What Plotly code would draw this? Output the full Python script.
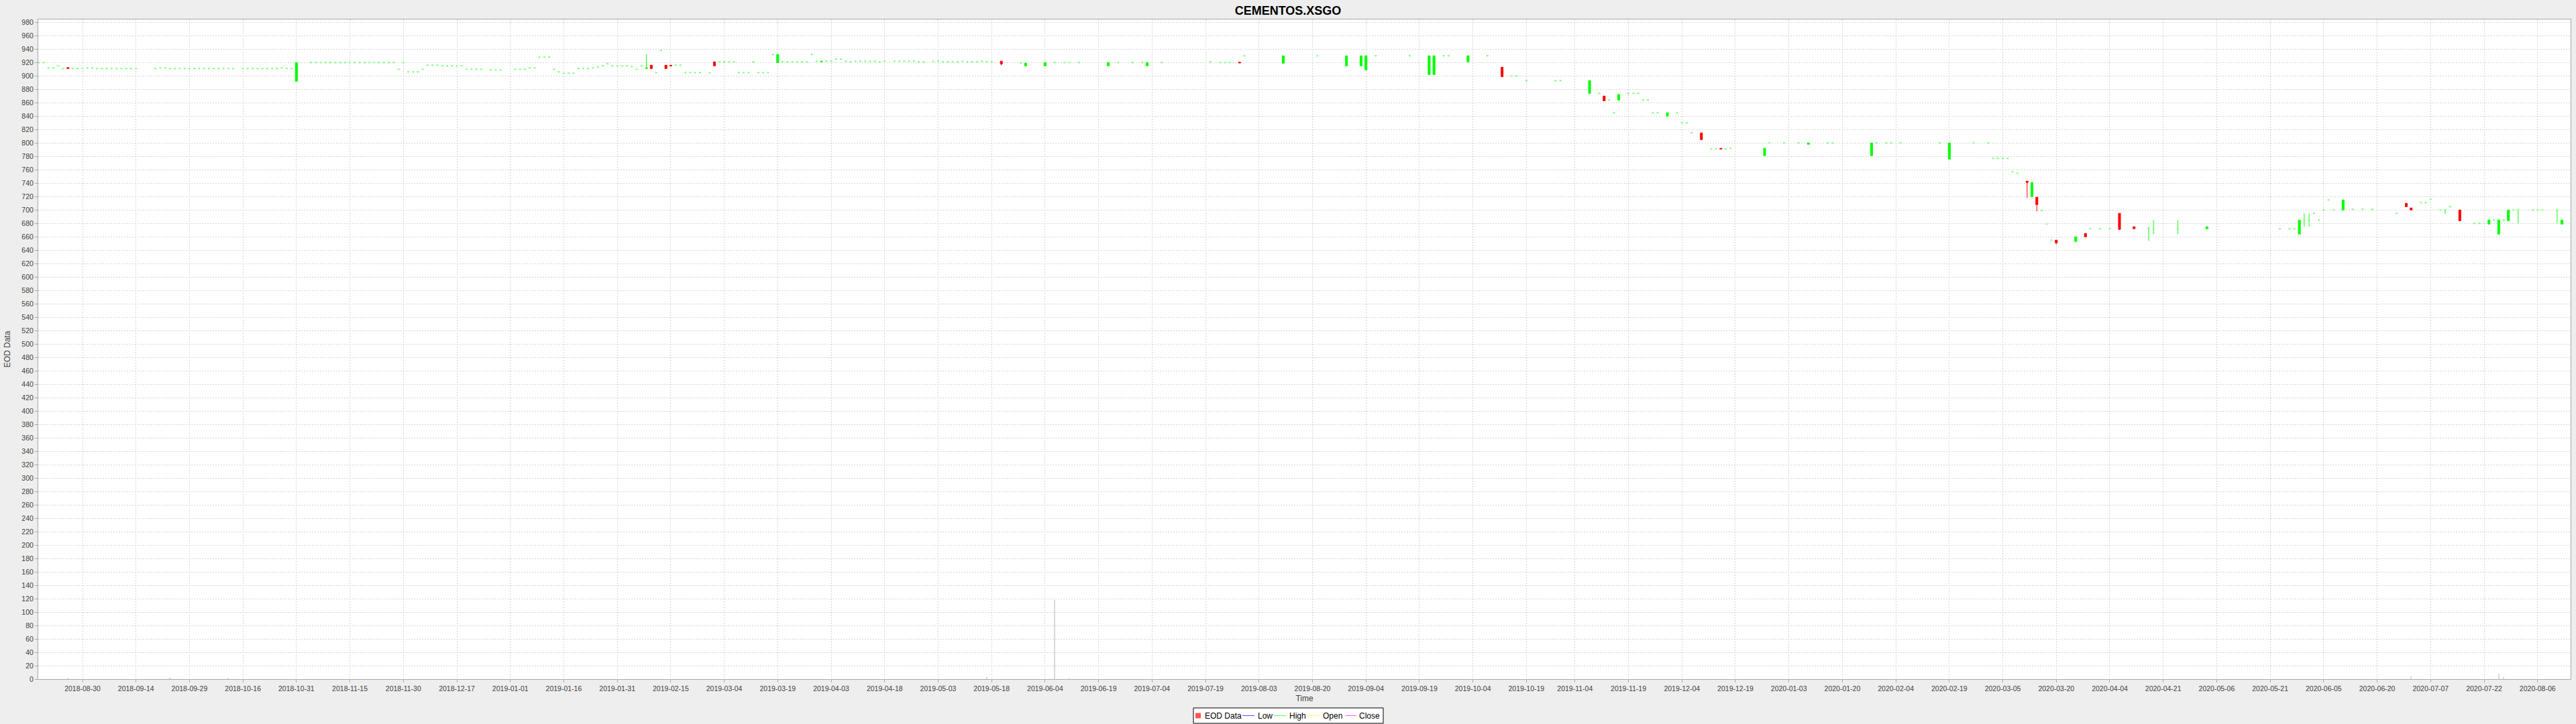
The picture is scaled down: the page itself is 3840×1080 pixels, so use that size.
import plotly.graph_objects as go
import pandas as pd

# ---------------- data ----------------
dates = [
    # 2018-08
    "2018-08-17","2018-08-20","2018-08-21","2018-08-22","2018-08-23","2018-08-24","2018-08-27","2018-08-28","2018-08-29","2018-08-30","2018-08-31",
    # 2018-09
    "2018-09-03","2018-09-04","2018-09-05","2018-09-06","2018-09-07","2018-09-10","2018-09-11","2018-09-12","2018-09-13","2018-09-14",
    "2018-09-20","2018-09-21","2018-09-24","2018-09-25","2018-09-26","2018-09-27","2018-09-28",
    # 2018-10
    "2018-10-01","2018-10-02","2018-10-03","2018-10-04","2018-10-05","2018-10-08","2018-10-09","2018-10-10","2018-10-11","2018-10-12",
    "2018-10-16","2018-10-17","2018-10-18","2018-10-19","2018-10-22","2018-10-23","2018-10-24","2018-10-25","2018-10-26","2018-10-29","2018-10-30","2018-10-31",
    # 2018-11
    "2018-11-05","2018-11-06","2018-11-07","2018-11-08","2018-11-09","2018-11-12","2018-11-13","2018-11-14","2018-11-15","2018-11-16",
    "2018-11-19","2018-11-20","2018-11-21","2018-11-22","2018-11-23","2018-11-26","2018-11-27","2018-11-28","2018-11-29","2018-11-30",
    # 2018-12
    "2018-12-03","2018-12-04","2018-12-05","2018-12-06","2018-12-07","2018-12-10","2018-12-11","2018-12-12","2018-12-13","2018-12-14",
    "2018-12-17","2018-12-18","2018-12-19","2018-12-20","2018-12-21","2018-12-24","2018-12-26","2018-12-27","2018-12-28",
    # 2019-01
    "2019-01-02","2019-01-03","2019-01-04","2019-01-07","2019-01-08","2019-01-09","2019-01-10","2019-01-11","2019-01-14","2019-01-15","2019-01-16",
    "2019-01-17","2019-01-18","2019-01-21","2019-01-22","2019-01-23","2019-01-24","2019-01-25","2019-01-28","2019-01-29","2019-01-30","2019-01-31",
    # 2019-02
    "2019-02-01","2019-02-04","2019-02-05","2019-02-06","2019-02-07","2019-02-08","2019-02-11","2019-02-12","2019-02-13","2019-02-14",
    "2019-02-15","2019-02-18","2019-02-19","2019-02-20","2019-02-21","2019-02-22","2019-02-25","2019-02-27","2019-02-28",
    # 2019-03
    "2019-03-01","2019-03-04","2019-03-05","2019-03-06","2019-03-07","2019-03-08","2019-03-11","2019-03-12","2019-03-13","2019-03-14","2019-03-15",
    "2019-03-18","2019-03-19","2019-03-20","2019-03-21","2019-03-22","2019-03-25","2019-03-26","2019-03-27","2019-03-28","2019-03-29",
    # 2019-04
    "2019-04-01","2019-04-02","2019-04-03","2019-04-04","2019-04-05","2019-04-08","2019-04-09","2019-04-10","2019-04-11","2019-04-12","2019-04-15",
    "2019-04-16","2019-04-17","2019-04-18","2019-04-22","2019-04-23","2019-04-24","2019-04-25","2019-04-26","2019-04-29","2019-04-30",
    # 2019-05
    "2019-05-02","2019-05-03","2019-05-06","2019-05-07","2019-05-08","2019-05-09","2019-05-10","2019-05-13","2019-05-14","2019-05-15",
    "2019-05-16","2019-05-17","2019-05-20","2019-05-22","2019-05-28","2019-05-29",
    # 2019-06
    "2019-06-04","2019-06-06","2019-06-10","2019-06-11","2019-06-13","2019-06-21","2019-06-25","2019-06-28",
    # 2019-07
    "2019-07-02","2019-07-03","2019-07-08","2019-07-22","2019-07-24","2019-07-25","2019-07-26","2019-07-30","2019-07-31",
    # 2019-08
    "2019-08-12","2019-08-21","2019-08-29",
    # 2019-09
    "2019-09-03","2019-09-04","2019-09-06","2019-09-17","2019-09-23","2019-09-24","2019-09-26","2019-09-27",
    # 2019-10
    "2019-10-03","2019-10-09","2019-10-14","2019-10-16","2019-10-17","2019-10-21","2019-10-29","2019-10-30",
    # 2019-11
    "2019-11-07","2019-11-11","2019-11-12","2019-11-13","2019-11-14","2019-11-15","2019-11-19","2019-11-20","2019-11-21","2019-11-22",
    "2019-11-25","2019-11-26","2019-11-27","2019-11-29",
    # 2019-12
    "2019-12-03","2019-12-04","2019-12-05","2019-12-06","2019-12-10","2019-12-12","2019-12-13","2019-12-16","2019-12-17","2019-12-18",
    "2019-12-27","2019-12-30",
    # 2020-01
    "2020-01-02","2020-01-07","2020-01-09","2020-01-15","2020-01-16","2020-01-28","2020-01-29","2020-01-31",
    # 2020-02
    "2020-02-03","2020-02-05","2020-02-17","2020-02-19","2020-02-26",
    # 2020-03
    "2020-03-02","2020-03-03","2020-03-04","2020-03-05","2020-03-06","2020-03-09","2020-03-10","2020-03-12","2020-03-13","2020-03-16",
    "2020-03-17","2020-03-18","2020-03-19","2020-03-20","2020-03-26","2020-03-30","2020-03-31",
    # 2020-04
    "2020-04-02","2020-04-06","2020-04-08","2020-04-13","2020-04-16","2020-04-17","2020-04-24",
    # 2020-05
    "2020-05-04","2020-05-25","2020-05-27","2020-05-28","2020-05-29",
    # 2020-06
    "2020-06-01","2020-06-02","2020-06-03","2020-06-04","2020-06-05","2020-06-08","2020-06-09","2020-06-11","2020-06-15","2020-06-17",
    "2020-06-19","2020-06-26","2020-06-30",
    # 2020-07
    "2020-07-01","2020-07-03","2020-07-06","2020-07-07","2020-07-09","2020-07-10","2020-07-13","2020-07-15","2020-07-20","2020-07-21",
    "2020-07-23","2020-07-24","2020-07-27","2020-07-28","2020-07-29","2020-07-30","2020-07-31",
    # 2020-08
    "2020-08-05","2020-08-06","2020-08-07","2020-08-12","2020-08-13",
]

opens = [
    920,920,912,912,915,911,912.5,911,911,911,912,
    912,911,911,911,911,911,911,911,911,911,911,912,912,911,911,911,911,
    911,911,911,911,911,911,911,911,911,911,911,911,911,911,911,911,911,911,912,911,911,892,
    920,920,920,920,920,920,920,920,920,920,920,920,920,920,920,920,920,920,910,920,
    906,906,906,910,916,916,916,915,915,915,915,915,910,910,910,910,909,909,909,
    910,910,910,912,912,928,928,928,910,906,904,904,904,911,911,911,912,913,915,918,915,915,
    915,915,914,910,915,911,916,905,938,916,916,916,916,905,905,905,905,905,921,
    921,921,921,921,905,905,905,921,905,905,905,932,920,921,921,921,921,921,921,932,922,
    921,922,922,925,925,922,921,922,922,922,922,922,921,922,922,922,922,922,922,921,921,
    922,922,921,921,921,921,922,921,921,921,922,921,921,922,919,915,
    915,920,920,920,920,915,920,920,
    920,915,920,921,920,920,920,920.5,930,
    919,930,915,
    915,909,930,930,902,902,930,930,
    921,930,913,900,900,893,893,893,
    874,874,870,864,845,864,874,874,874,864,864,845,845,840,
    845,830,830,815,815,791,791,792,791,792,781,800,
    800,800,798,800,800,781,800,800,
    800,800,800,776,800,
    800,777,777,777,777,757,755,743,720,719,699,679,655,655,653,665,672,
    672,672,695,675,672,672,672,
    672,672,672,672,664,
    685,685,695,685,700,715,700,700,701,701,701,695,710,
    703,711,711,716,700,700,705,700,680,680,679,685,664,685,684,700,700,
    700,700,700,700,679,
]

highs = [
    920,920,912,912,915,911,912.5,911,911,911,912,
    912,911,911,911,911,911,911,911,911,911,911,912,912,911,911,911,911,
    911,911,911,911,911,911,911,911,911,911,911,911,911,911,911,911,911,911,912,911,911,920,
    920,920,920,920,920,920,920,920,920,920,920,920,920,920,920,920,920,920,910,920,
    906,906,906,910,916,916,916,915,915,915,915,915,910,910,910,910,909,909,909,
    910,910,910,912,912,928,928,928,910,906,904,904,904,911,911,911,912,913,915,918,915,915,
    915,915,914,910,915,932,916,905,938,916,916,916,916,905,905,905,905,905,921,
    921,921,921,921,905,905,905,921,905,905,905,932,932,921,921,921,921,921,921,932,922,
    922,922,922,925,925,922,921,922,922,922,922,922,921,922,922,922,922,922,922,921,921,
    922,922,921,921,921,921,922,921,921,921,922,921,921,922,919,919,
    920,920,920,920,920,920,920,920,
    920,920,920,921,920,920,920,920.5,930,
    930,930,930,
    930,930,930,930,930,930,930,930,
    930,930,913,900,900,893,893,893,
    893,874,870,864,845,874,874,874,874,864,864,845,845,845,
    845,830,830,815,815,791,791,792,791,792,792,800,
    800,800,800,800,800,800,800,800,
    800,800,800,800,800,
    800,777,777,777,777,757,755,743,741,719,699,679,655,655,660,665,672,
    672,672,695,675,675,685,685,
    675,672,672,672,685,
    695,695,695,685,700,715,700,715,701,701,701,695,710,
    703,711,711,716,700,700,705,700,680,680,685,685,685,685,700,700,700,
    700,700,700,700,685,
]

lows = [
    920,920,912,912,915,911,911,911,911,911,912,
    912,911,911,911,911,911,911,911,911,911,911,912,912,911,911,911,911,
    911,911,911,911,911,911,911,911,911,911,911,911,911,911,911,911,911,911,912,911,911,892,
    920,920,920,920,920,920,920,920,920,920,920,920,920,920,920,920,920,920,910,920,
    906,906,906,910,916,916,916,915,915,915,915,915,910,910,910,910,909,909,909,
    910,910,910,912,912,928,928,928,910,906,904,904,904,911,911,911,912,913,915,918,915,915,
    915,915,914,910,915,911,911,905,938,911,915,916,916,905,905,905,905,905,915,
    921,921,921,921,905,905,905,921,905,905,905,932,920,921,921,921,921,921,921,932,922,
    921,922,922,925,925,922,921,922,922,922,922,922,921,922,922,922,922,922,922,921,921,
    922,922,921,921,921,921,922,921,921,921,922,921,921,916,919,915,
    915,920,920,920,920,915,920,920,
    920,915,920,921,920,920,920,919.5,930,
    919,930,915,
    915,909,930,930,902,902,930,930,
    921,930,899,900,900,893,893,893,
    874,874,863,864,845,864,874,874,874,864,864,845,845,840,
    845,830,830,815,805,791,791,791,791,792,781,800,
    800,800,798,800,800,781,800,800,
    800,800,800,776,800,
    800,777,777,777,777,757,755,718,720,698,699,679,655,649,653,660,672,
    672,672,671,672,654,664,664,
    672,672,672,672,664,
    675,675,695,685,700,715,700,700,701,701,701,695,705,
    700,711,711,716,700,694,705,684,680,680,679,685,664,685,684,700,680,
    700,700,700,680,679,
]

closes = [
    920,920,912,912,915,911,911,911,911,911,912,
    912,911,911,911,911,911,911,911,911,911,911,912,912,911,911,911,911,
    911,911,911,911,911,911,911,911,911,911,911,911,911,911,911,911,911,911,912,911,911,920,
    920,920,920,920,920,920,920,920,920,920,920,920,920,920,920,920,920,920,910,920,
    906,906,906,910,916,916,916,915,915,915,915,915,910,910,910,910,909,909,909,
    910,910,910,912,912,928,928,928,910,906,904,904,904,911,911,911,912,913,915,918,915,915,
    915,915,914,910,915,912,911,905,938,911,915,916,916,905,905,905,905,905,915,
    921,921,921,921,905,905,905,921,905,905,905,932,932,921,921,921,921,921,921,932,922,
    922,922,922,925,925,922,921,922,922,922,922,922,921,922,922,922,922,922,922,921,921,
    922,922,921,921,921,921,922,921,921,921,922,921,921,918,919,919,
    920,920,920,920,920,920,920,920,
    920,920,920,921,920,920,920,919.5,930,
    930,930,930,
    930,930,930,930,930,930,930,930,
    930,930,899,900,900,893,893,893,
    893,874,863,864,845,872,874,874,874,864,864,845,845,845,
    845,830,830,815,805,791,791,791,791,792,792,800,
    800,800,800,800,800,800,800,800,
    800,800,800,800,800,
    800,777,777,777,777,757,755,741,741,708,699,679,655,651,660,660,672,
    672,672,671,672,672,672,672,
    675,672,672,672,685,
    685,685,695,685,700,715,700,715,701,701,701,695,705,
    700,711,711,716,700,700,705,684,680,680,685,685,685,685,700,700,700,
    700,700,700,700,685,
]

# volume overlay (drawn in price units, as in the reference)
volume_dates = ["2018-08-27","2018-09-25","2018-10-11","2019-05-17","2019-06-06","2019-06-11","2020-07-01","2020-07-27","2020-07-28"]
volume_heights = [2, 2, 2, 3, 118, 1, 4, 8, 3]

tick_labels = ["2018-08-30","2018-09-14","2018-09-29","2018-10-16","2018-10-31","2018-11-15","2018-11-30","2018-12-17",
               "2019-01-01","2019-01-16","2019-01-31","2019-02-15","2019-03-04","2019-03-19","2019-04-03","2019-04-18",
               "2019-05-03","2019-05-18","2019-06-04","2019-06-19","2019-07-04","2019-07-19","2019-08-03","2019-08-20",
               "2019-09-04","2019-09-19","2019-10-04","2019-10-19","2019-11-04","2019-11-19","2019-12-04","2019-12-19",
               "2020-01-03","2020-01-20","2020-02-04","2020-02-19","2020-03-05","2020-03-20","2020-04-04","2020-04-21",
               "2020-05-06","2020-05-21","2020-06-05","2020-06-20","2020-07-07","2020-07-22","2020-08-06"]

legend_names = ["EOD Data", "Low", "High", "Open", "Close"]
legend_colors = ["#ff5555", "#5555ff", "#55ff55", "#ffff55", "#ff55ff"]

# ---------------- figure ----------------
assert len(dates) == len(opens) == len(highs) == len(lows) == len(closes)

body_idx = [i for i in range(len(dates)) if opens[i] != closes[i]]
flat_idx = [i for i in range(len(dates)) if opens[i] == closes[i]]

def pick(arr, idx):
    return [arr[i] for i in idx]

# weekend ticks sit at the start of the next trading segment (Monday)
tick_pos = []
for t in tick_labels:
    d = pd.Timestamp(t)
    if d.weekday() >= 5:
        d = d + pd.Timedelta(days=7 - d.weekday())
    tick_pos.append(d.strftime("%Y-%m-%d"))

W, H = 3840, 1080
ML, MR, MT, MB = 57, 8, 29, 67
PW, PH = W - ML - MR, H - MT - MB

def px_x(px):
    return (px - ML) / PW

def px_y(py):
    return (H - MB - py) / PH

fig = go.Figure()

fig.add_trace(go.Bar(
    x=volume_dates, y=volume_heights, width=0.3 * 86400000,
    marker=dict(color="rgba(128,128,128,0.3)", line=dict(width=0)),
    showlegend=False, hoverinfo="skip"))

fig.add_trace(go.Candlestick(
    x=pick(dates, flat_idx), open=pick(opens, flat_idx), high=pick(highs, flat_idx),
    low=pick(lows, flat_idx), close=pick(closes, flat_idx),
    increasing=dict(line=dict(color="#80ff80", width=2), fillcolor="#80ff80"),
    decreasing=dict(line=dict(color="#80ff80", width=2), fillcolor="#80ff80"),
    whiskerwidth=0, showlegend=False, name="EOD Data"))

fig.add_trace(go.Candlestick(
    x=pick(dates, body_idx), open=pick(opens, body_idx), high=pick(highs, body_idx),
    low=pick(lows, body_idx), close=pick(closes, body_idx),
    increasing=dict(line=dict(color="#00ff00", width=1), fillcolor="#00ff00"),
    decreasing=dict(line=dict(color="#ff0000", width=1), fillcolor="#ff0000"),
    whiskerwidth=0, showlegend=False, name="EOD Data"))

grid = "#d4d4d4"
axis_col = "#a8a8a8"
font_family = "Liberation Sans, Arial, sans-serif"

# ---- legend box drawn like the reference (bottom centre) ----
shapes = []
annotations = []
box_l, box_r, box_t, box_b = 1779, 2062, 1056, 1079
shapes.append(dict(type="rect", xref="paper", yref="paper",
                   x0=px_x(box_l), x1=px_x(box_r), y0=px_y(box_b), y1=px_y(box_t),
                   line=dict(color="#000000", width=1), fillcolor="#ffffff", layer="above"))
mid_y = px_y(1067.5)
sym_x = [1782, 1852, 1899, 1949, 2006]   # symbol start
sym_w = [8, 18, 18, 18, 16]
txt_x = [1794, 1873, 1920, 1970, 2024]
for i, (name, col) in enumerate(zip(legend_names, legend_colors)):
    if i == 0:
        shapes.append(dict(type="rect", xref="paper", yref="paper",
                           x0=px_x(sym_x[i]), x1=px_x(sym_x[i] + sym_w[i]),
                           y0=px_y(1071.5), y1=px_y(1063.5),
                           line=dict(width=0), fillcolor=col, layer="above"))
    else:
        shapes.append(dict(type="line", xref="paper", yref="paper",
                           x0=px_x(sym_x[i]), x1=px_x(sym_x[i] + sym_w[i]),
                           y0=mid_y, y1=mid_y,
                           line=dict(color=col, width=1), layer="above"))
    annotations.append(dict(text=name, xref="paper", yref="paper", x=px_x(txt_x[i]), y=mid_y,
                            xanchor="left", yanchor="middle", showarrow=False,
                            font=dict(family=font_family, size=12, color="#000000")))

fig.update_layout(
    width=W, height=H,
    paper_bgcolor="#eeeeee", plot_bgcolor="#ffffff",
    margin=dict(l=ML, r=MR, t=MT, b=MB, autoexpand=False),
    font=dict(family=font_family, size=12, color="#404040"),
    title=dict(text="<b>CEMENTOS.XSGO</b>", x=0.5, xref="container", xanchor="center",
               y=1 - 16 / H, yref="container", yanchor="middle",
               font=dict(family=font_family, size=18, color="#000000")),
    boxgap=0.4, boxgroupgap=0.3, bargap=0,
    showlegend=False,
    shapes=shapes, annotations=annotations,
    hovermode=False,
)

fig.update_xaxes(
    type="date",
    rangebreaks=[dict(bounds=["sat", "mon"])],
    range=["2018-08-16 21:26", "2020-08-14 19:12"],
    rangeslider=dict(visible=False),
    tickmode="array", tickvals=tick_pos, ticktext=tick_labels,
    tickfont=dict(family=font_family, size=10.5, color="#404040"),
    ticks="outside", ticklen=4, tickcolor=axis_col,
    showgrid=True, gridcolor=grid, gridwidth=1, griddash="2px,2px",
    showline=True, linecolor=axis_col, linewidth=1, mirror=True,
    zeroline=False,
    title=dict(text="Time", standoff=6, font=dict(family=font_family, size=12, color="#404040")),
)

fig.update_yaxes(
    range=[0, 984.3],
    tickmode="linear", tick0=0, dtick=20,
    tickfont=dict(family=font_family, size=10.5, color="#404040"),
    ticks="outside", ticklen=4, tickcolor=axis_col,
    showgrid=True, gridcolor=grid, gridwidth=1, griddash="2px,2px",
    showline=True, linecolor=axis_col, linewidth=1, mirror=True,
    zeroline=False,
    title=dict(text="EOD Data", standoff=14, font=dict(family=font_family, size=12, color="#404040")),
)

fig.write_html("out.html", config={"displayModeBar": False},
               post_script="document.body.style.margin='0px';")
